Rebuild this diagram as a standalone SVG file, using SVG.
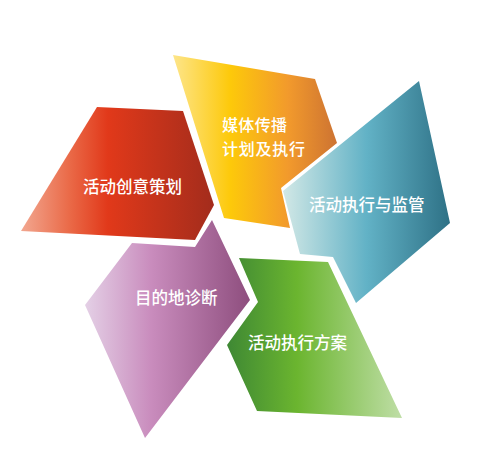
<svg xmlns="http://www.w3.org/2000/svg" width="477" height="459" viewBox="0 0 477 459">
<defs>
<linearGradient id="gRed" gradientUnits="userSpaceOnUse" x1="21" y1="0" x2="214" y2="0">
<stop offset="0" stop-color="#f2a790"/>
<stop offset="0.25" stop-color="#ea6a48"/>
<stop offset="0.45" stop-color="#e1391a"/>
<stop offset="1" stop-color="#a32c1c"/>
</linearGradient>
<linearGradient id="gYellow" gradientUnits="userSpaceOnUse" x1="173" y1="0" x2="337" y2="0">
<stop offset="0" stop-color="#fde58a"/>
<stop offset="0.35" stop-color="#fdc90a"/>
<stop offset="0.7" stop-color="#f29a2c"/>
<stop offset="1" stop-color="#cd7332"/>
</linearGradient>
<linearGradient id="gBlue" gradientUnits="userSpaceOnUse" x1="283" y1="0" x2="450" y2="0">
<stop offset="0" stop-color="#d2e8e6"/>
<stop offset="0.5" stop-color="#62b2c6"/>
<stop offset="1" stop-color="#2e7186"/>
</linearGradient>
<linearGradient id="gGreen" gradientUnits="userSpaceOnUse" x1="227" y1="0" x2="402" y2="0">
<stop offset="0" stop-color="#3e8834"/>
<stop offset="0.4" stop-color="#6bb52f"/>
<stop offset="1" stop-color="#bfdea6"/>
</linearGradient>
<linearGradient id="gPurple" gradientUnits="userSpaceOnUse" x1="85" y1="0" x2="250" y2="0">
<stop offset="0" stop-color="#e4d0e6"/>
<stop offset="0.4" stop-color="#c98cbd"/>
<stop offset="1" stop-color="#8e4e7e"/>
</linearGradient>
</defs>
<style>
.t{fill:#ffffff;font-family:"Noto Sans CJK SC","Noto Sans",sans-serif;font-size:16.5px;font-weight:500;}
.t2{font-size:16px;}
</style>
<rect width="477" height="459" fill="#ffffff"/>
<g id="connectors"></g>
<g id="node-red">
<polygon points="97,107 183,111 214,205 195,240 21,231" fill="url(#gRed)"/>
<text class="t" x="83" y="193">活动创意策划</text>
</g>
<g id="node-yellow">
<polygon points="173,55 315,79 337,143 281,188 290,228 224,218" fill="url(#gYellow)"/>
<text class="t t2" x="222" y="131" textLength="65">媒体传播</text>
<text class="t t2" x="222" y="155" textLength="83">计划及执行</text>
</g>
<g id="node-blue">
<polygon points="419,81 450,223 356,303 333,257 300,254 283,191" fill="url(#gBlue)"/>
<text class="t" x="309" y="211">活动执行与监管</text>
</g>
<g id="node-purple">
<polygon points="132,243 195,247 212,220 250,300 145,438 85,305" fill="url(#gPurple)"/>
<text class="t" x="135" y="304">目的地诊断</text>
</g>
<g id="node-green">
<polygon points="239,258 328,262 402,418 257,411 227,345 258,302" fill="url(#gGreen)"/>
<text class="t" x="248" y="349">活动执行方案</text>
</g>
</svg>
